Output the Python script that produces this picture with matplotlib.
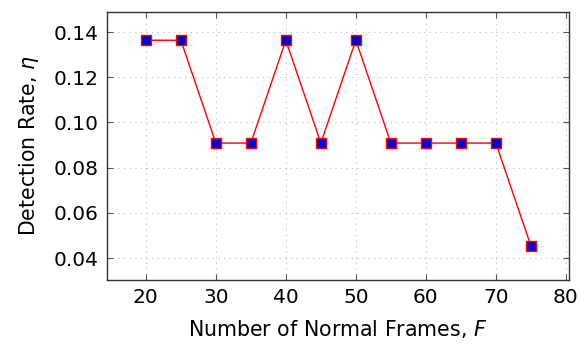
import matplotlib
matplotlib.use("Agg")
import matplotlib.pyplot as plt

# Datos
frames = [20, 25, 30, 35, 40, 45, 50, 55, 60, 65, 70, 75]
rate = [0.1364, 0.1364, 0.0909, 0.0909, 0.1364, 0.0909, 0.1364,
        0.0909, 0.0909, 0.0909, 0.0909, 0.0455]

plt.rcParams['font.family'] = ['DejaVu Sans']
plt.rcParams['mathtext.fontset'] = 'dejavusans'

fig = plt.figure(figsize=(5.87, 3.45), dpi=100)
ax = fig.add_axes([107 / 587, 1 - 280 / 345, 462 / 587, 268 / 345])

ax.plot(frames, rate, color='red', linewidth=1, marker='s', markersize=7,
        markerfacecolor='#0000cc', markeredgecolor='red', markeredgewidth=1, zorder=3)

ax.set_xlim(14.45, 80.45)
ax.set_ylim(0.0303, 0.1489)
ax.set_xticks([20, 30, 40, 50, 60, 70, 80])
ax.set_yticks([0.04, 0.06, 0.08, 0.10, 0.12, 0.14])
ax.set_yticklabels(["0.04", "0.06", "0.08", "0.10", "0.12", "0.14"])
ax.tick_params(direction='in', top=True, right=True, length=4, width=0.8,
               color='#555555', labelsize=14.5, pad=6)
ax.grid(True, linestyle=(0, (1, 4)), color='#bbbbbb', linewidth=0.8)
for s in ax.spines.values():
    s.set_linewidth(1)
    s.set_color('#333333')

ax.set_xlabel("Number of Normal Frames, $F$", fontsize=14.8, labelpad=8)
ax.set_ylabel("Detection Rate, $\\eta$", fontsize=14.8, labelpad=9)

fig.savefig("out.png", dpi=100)
